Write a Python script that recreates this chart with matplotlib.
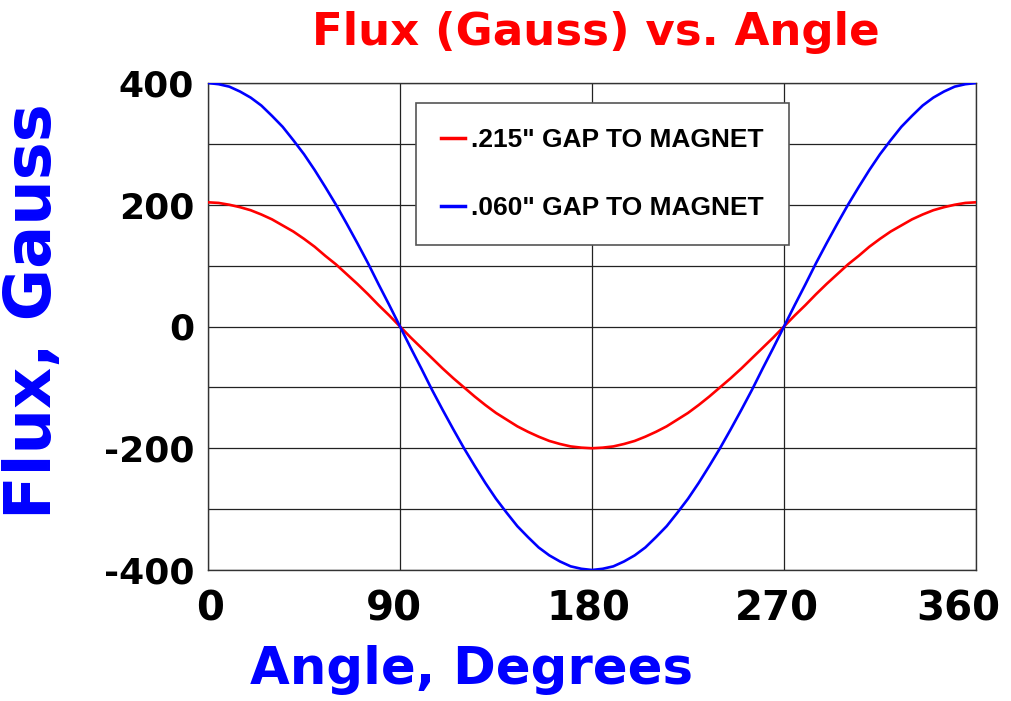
import matplotlib
matplotlib.use("Agg")
import matplotlib.pyplot as plt
from matplotlib.transforms import ScaledTranslation

plt.rcParams['axes.unicode_minus'] = False

angles = [0, 5, 10, 15, 20, 25, 30, 35, 40, 45, 50, 55, 60, 65, 70, 75, 80, 85, 90,
          95, 100, 105, 110, 115, 120, 125, 130, 135, 140, 145, 150, 155, 160, 165, 170, 175, 180,
          185, 190, 195, 200, 205, 210, 215, 220, 225, 230, 235, 240, 245, 250, 255, 260, 265, 270,
          275, 280, 285, 290, 295, 300, 305, 310, 315, 320, 325, 330, 335, 340, 345, 350, 355, 360]
flux_215 = [204, 203, 200, 196, 191, 184, 176, 166, 156, 144, 131, 116, 102, 86, 70, 53, 35, 18, 0,
            -18, -35, -52, -69, -85, -100, -115, -129, -142, -153, -164, -173, -181, -188, -193, -197, -199, -200,
            -199, -197, -193, -188, -181, -173, -164, -153, -142, -129, -115, -100, -85, -69, -52, -35, -18, 0,
            18, 35, 53, 70, 86, 102, 116, 131, 144, 156, 166, 176, 184, 191, 196, 200, 203, 204]
flux_060 = [400, 398, 394, 386, 376, 363, 346, 328, 306, 283, 257, 229, 200, 169, 137, 104, 69, 35, 0,
            -35, -69, -104, -137, -169, -200, -229, -257, -283, -306, -328, -346, -363, -376, -386, -394, -398, -400,
            -398, -394, -386, -376, -363, -346, -328, -306, -283, -257, -229, -200, -169, -137, -104, -69, -35, 0,
            35, 69, 104, 137, 169, 200, 229, 257, 283, 306, 328, 346, 363, 376, 386, 394, 398, 400]
labels = ['.215" GAP TO MAGNET', '.060" GAP TO MAGNET']
x_ticks = [0, 90, 180, 270, 360]
y_ticks = [-400, -200, 0, 200, 400]
y_grid = [-300, -100, 100, 300]

fig = plt.figure(figsize=(10.12, 7.01), dpi=100)
ax = fig.add_axes([208/1012, 1-570/701, (976-208)/1012, (570-83)/701])

ax.plot(angles, flux_215, color='#ff0000', lw=1.9, label=labels[0], zorder=3)
ax.plot(angles, flux_060, color='#0000ff', lw=1.9, label=labels[1], zorder=3)

ax.set_xlim(0, 360)
ax.set_ylim(-400, 400)
ax.set_xticks(x_ticks)
ax.set_yticks(y_ticks)
ax.set_yticks(y_grid, minor=True)
ax.grid(True, which='both', color='#222222', lw=0.9)
ax.tick_params(which='both', length=0)
ax.tick_params(axis='x', pad=14)
ax.tick_params(axis='y', pad=10)
x_shift_px = [2, -6, -4, -7, -18]
for lab, dx in zip(ax.get_xticklabels(), x_shift_px):
    lab.set_fontfamily('DejaVu Sans'); lab.set_fontweight('bold'); lab.set_fontsize(29)
    lab.set_transform(lab.get_transform() + ScaledTranslation(dx / 100, 0, fig.dpi_scale_trans))
for lab in ax.get_yticklabels():
    lab.set_fontfamily('DejaVu Sans'); lab.set_fontweight('bold'); lab.set_fontsize(26)
for s in ax.spines.values():
    s.set_color('#333333'); s.set_linewidth(1.0)

fig.text(596/1012, 1-33/701, 'Flux (Gauss) vs. Angle', color='#ff0000', fontsize=32.5,
         fontweight='bold', family='DejaVu Sans', ha='center', va='center')
fig.text(472/1012, 1-670/701, 'Angle, Degrees', color='#0000ff', fontsize=37,
         fontweight='bold', family='DejaVu Sans', ha='center', va='center')
fig.text(33/1012, 1-311/701, 'Flux, Gauss', color='#0000ff', fontsize=46,
         fontweight='bold', family='DejaVu Sans', ha='center', va='center', rotation=90)

leg = ax.legend(loc='upper left', bbox_to_anchor=((416-208)/768, (570-103)/487),
                borderaxespad=0, frameon=True, fancybox=False, shadow=False,
                prop={'family': 'Liberation Sans', 'weight': 'bold', 'size': 19},
                handlelength=0.9, handletextpad=0.23, labelspacing=1.68, borderpad=0.95)
leg.get_frame().set_edgecolor('#555555')
leg.get_frame().set_linewidth(1.2)
leg.get_frame().set_alpha(1)
for h in leg.get_lines():
    h.set_linewidth(2.5)

fig.savefig('out.png', dpi=100)
